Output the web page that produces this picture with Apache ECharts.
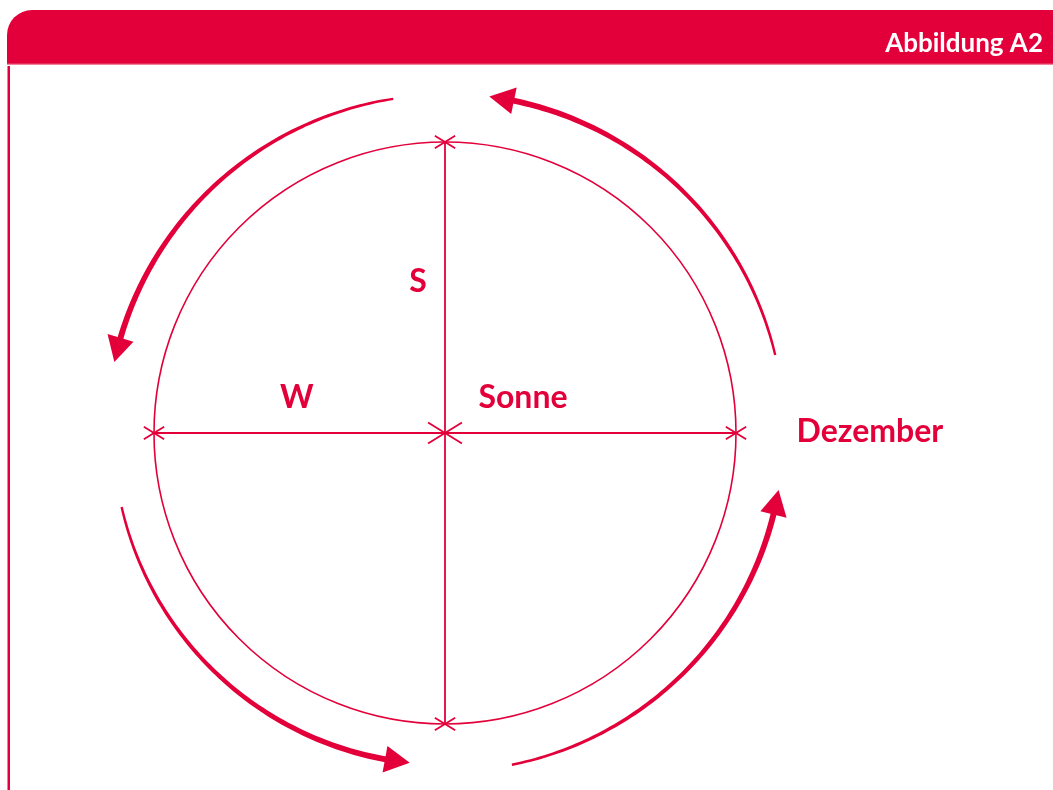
<!DOCTYPE html>
<html><head><meta charset="utf-8">
<script src="https://cdn.jsdelivr.net/npm/echarts@6/dist/echarts.min.js"></script>
<style>html,body{margin:0;padding:0;background:#fff}#c{width:1053px;height:790px}</style>
</head><body><div id="c"></div>
<script>
// ---- data ----
const figureTitle = 'Abbildung A2';
const orbitRadius = [1];
const labelTexts = ['S', 'W', 'Sonne', 'Dezember'];
const labelX = [-0.093, -0.509, 0.268, 1.460];
const labelY = [0.519, 0.120, 0.120, 0.003];
const arcStartDeg = [98.8, 13.3, 192.9, 281.4];
const arcEndDeg = [167.9, 82.5, 263.9, 350.3];
const arcRadius = [1.162, 1.166, 1.140, 1.163];
// ---- end data ----

const RED = '#e3003a';
const FONT = 'Lato';
const chart = echarts.init(document.getElementById('c'), null, {renderer: 'canvas'});
const PXU = 291;

const R = orbitRadius[0];
const diameters = [[-R, 0, R, 0], [0, R, 0, -R]];
const tickPoints = [[-R, 0, 12], [R, 0, 12], [0, R, 12], [0, -R, 12], [0, 0, 20]];
const arcs = arcStartDeg.map((s, i) => [s, arcEndDeg[i], arcRadius[i]]);
const labels = labelTexts.map((t, i) => [labelX[i], labelY[i], t]);

function renderOrbit(params, api) {
  const c = api.coord([0, 0]);
  const r = api.size([api.value(0), 0])[0];
  return {type: 'circle', shape: {cx: c[0], cy: c[1], r: r},
    style: {fill: 'none', stroke: RED, lineWidth: 1.6}};
}
function renderDiam(params, api) {
  const p1 = api.coord([api.value(0), api.value(1)]);
  const p2 = api.coord([api.value(2), api.value(3)]);
  return {type: 'line', shape: {x1: p1[0], y1: p1[1], x2: p2[0], y2: p2[1]},
    style: {stroke: RED, lineWidth: 1.8}};
}
function renderTick(params, api) {
  const p = api.coord([api.value(0), api.value(1)]);
  const h = api.value(2);
  const a = 32 * Math.PI / 180;
  const dx = h * Math.cos(a), dy = h * Math.sin(a);
  return {type: 'group', children: [
    {type: 'line', shape: {x1: p[0] - dx, y1: p[1] - dy, x2: p[0] + dx, y2: p[1] + dy}, style: {stroke: RED, lineWidth: 1.8}},
    {type: 'line', shape: {x1: p[0] - dx, y1: p[1] + dy, x2: p[0] + dx, y2: p[1] - dy}, style: {stroke: RED, lineWidth: 1.8}}
  ]};
}
function renderArc(params, api) {
  const a0 = api.value(0), a1 = api.value(1), Rr = api.value(2);
  const c = api.coord([0, 0]);
  const rp = api.size([Rr, 0])[0];
  const dir = Math.sign(a1 - a0);
  const headLen = 25, headHalf = 13.5;
  const headDeg = headLen / rp * 180 / Math.PI;
  const lineEnd = a1 - dir * (headDeg - 0.5);
  const N = 80;
  const outer = [], inner = [];
  for (let i = 0; i <= N; i++) {
    const t = i / N;
    const ang = (a0 + (lineEnd - a0) * t) * Math.PI / 180;
    const w = 1.2 + 1.8 * t;
    outer.push([c[0] + (rp + w) * Math.cos(ang), c[1] - (rp + w) * Math.sin(ang)]);
    inner.push([c[0] + (rp - w) * Math.cos(ang), c[1] - (rp - w) * Math.sin(ang)]);
  }
  const pts = outer.concat(inner.reverse());
  const ta = a1 * Math.PI / 180, ba = (a1 - dir * headDeg) * Math.PI / 180;
  const tip = [c[0] + rp * Math.cos(ta), c[1] - rp * Math.sin(ta)];
  const b1 = [c[0] + (rp + headHalf) * Math.cos(ba), c[1] - (rp + headHalf) * Math.sin(ba)];
  const b2 = [c[0] + (rp - headHalf) * Math.cos(ba), c[1] - (rp - headHalf) * Math.sin(ba)];
  return {type: 'group', children: [
    {type: 'polygon', shape: {points: pts}, style: {fill: RED}},
    {type: 'polygon', shape: {points: [tip, b1, b2]}, style: {fill: RED}}
  ]};
}
function renderLabel(params, api) {
  const p = api.coord([api.value(0), api.value(1)]);
  return {type: 'text', x: p[0], y: p[1], style: {text: labels[params.dataIndex][2],
    fill: RED, font: 'bold 32px ' + FONT, textAlign: 'center', textVerticalAlign: 'middle'}};
}

chart.setOption({
  animation: false,
  grid: {left: 0, right: 0, top: 0, bottom: 0},
  xAxis: {type: 'value', min: -445 / PXU, max: 608 / PXU, show: false},
  yAxis: {type: 'value', min: -357 / PXU, max: 433 / PXU, show: false},
  graphic: [
    {type: 'rect', shape: {x: 7, y: 10, width: 1070, height: 54, r: [25, 0, 0, 0]}, style: {fill: RED}, z: 10},
    {type: 'rect', shape: {x: 7, y: 63.5, width: 1070, height: 1.2}, style: {fill: '#ec5a7a'}, z: 11},
    {type: 'rect', shape: {x: 7.5, y: 66, width: 2.5, height: 730}, style: {fill: RED}, z: 10},
    {type: 'text', x: 1043, y: 44, style: {text: figureTitle, fill: '#ffffff', font: 'bold 26px ' + FONT,
      textAlign: 'right', textVerticalAlign: 'middle'}, z: 12}
  ],
  series: [
    {type: 'custom', renderItem: renderOrbit, data: [[R]], clip: false, silent: true},
    {type: 'custom', renderItem: renderDiam, data: diameters, clip: false, silent: true},
    {type: 'custom', renderItem: renderTick, data: tickPoints, clip: false, silent: true},
    {type: 'custom', renderItem: renderArc, data: arcs, clip: false, silent: true},
    {type: 'custom', renderItem: renderLabel, data: labels.map(l => [l[0], l[1]]), clip: false, silent: true}
  ]
});
</script></body></html>
